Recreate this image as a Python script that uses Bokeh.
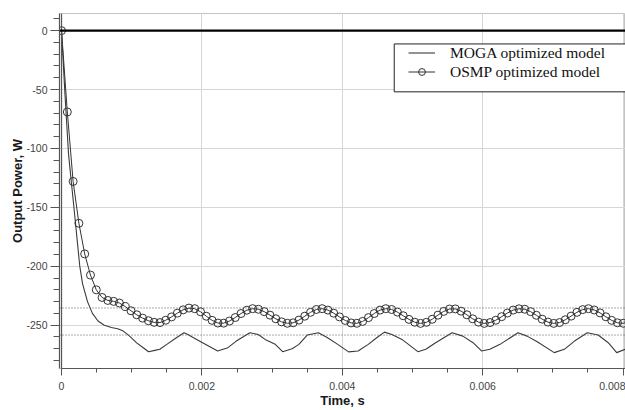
from bokeh.plotting import figure
from bokeh.models import (Range1d, FixedTicker, CustomJSTickFormatter, Span,
                          BoxAnnotation, Legend, LegendItem, ColumnDataSource)
from bokeh.embed import file_html
from bokeh.resources import INLINE

# ---------------- data ----------------
series_labels = ["MOGA optimized model", "OSMP optimized model"]

osmp_t_ms = [
    0, 0.0825, 0.165, 0.2475, 0.33, 0.4125, 0.495, 0.5775, 0.66, 0.7425,
    0.825, 0.9075, 0.99, 1.0725, 1.155, 1.2375, 1.32, 1.4025, 1.485, 1.5675,
    1.65, 1.7325, 1.815, 1.8975, 1.98, 2.0625, 2.145, 2.2275, 2.31, 2.3925,
    2.475, 2.5575, 2.64, 2.7225, 2.805, 2.8875, 2.97, 3.0525, 3.135, 3.2175,
    3.3, 3.3825, 3.465, 3.5475, 3.63, 3.7125, 3.795, 3.8775, 3.96, 4.0425,
    4.125, 4.2075, 4.29, 4.3725, 4.455, 4.5375, 4.62, 4.7025, 4.785, 4.8675,
    4.95, 5.0325, 5.115, 5.1975, 5.28, 5.3625, 5.445, 5.5275, 5.61, 5.6925,
    5.775, 5.8575, 5.94, 6.0225, 6.105, 6.1875, 6.27, 6.3525, 6.435, 6.5175,
    6.6, 6.6825, 6.765, 6.8475, 6.93, 7.0125, 7.095, 7.1775, 7.26, 7.3425,
    7.425, 7.5075, 7.59, 7.6725, 7.755, 7.8375, 7.92, 8.0025, 8.085, 8.1675,
]
osmp_power = [
    0, -69, -128, -163.5, -189.5, -207.5, -220, -226.5, -229, -229.8,
    -231.2, -234.2, -237.8, -241.2, -244, -246.2, -247.6, -247.8, -245.8, -243,
    -239.8, -237, -235.5, -236, -238.6, -242.4, -245.9, -248.2, -248.3, -246.5,
    -243.5, -240.1, -237.3, -236.0, -236.5, -238.5, -241.5, -244.6, -247.2, -248.4,
    -248.0, -245.7, -242.4, -239.1, -236.7, -236.0, -237.2, -239.8, -243.0, -246.0,
    -248.1, -248.4, -246.8, -243.6, -240.1, -237.2, -236.0, -236.7, -238.9, -242.0,
    -245.1, -247.5, -248.5, -247.6, -245.0, -241.5, -238.3, -236.3, -236.2, -238.1,
    -241.2, -244.6, -247.4, -248.5, -247.8, -245.8, -242.8, -239.7, -237.2, -236.1,
    -236.5, -238.5, -241.6, -244.9, -247.4, -248.5, -247.8, -245.4, -242.3, -239.1,
    -236.8, -236.0, -237.1, -239.6, -242.9, -245.9, -248.0, -248.4, -247.1, -244.2,
]

moga_t_ms = [
    0, 0.05, 0.10, 0.18, 0.26, 0.30, 0.37, 0.44, 0.52, 0.61,
    0.71, 0.80, 0.88, 0.97, 1.07, 1.16, 1.24, 1.33, 1.40, 1.50,
    1.62, 1.745, 1.80, 1.88, 2.009, 2.225, 2.37, 2.49, 2.683, 2.803,
    2.90, 3.045, 3.15, 3.285, 3.382, 3.50, 3.66, 3.79, 3.935, 4.09,
    4.225, 4.37, 4.49, 4.60, 4.707, 4.85, 5.077, 5.19, 5.33, 5.564,
    5.718, 5.863, 5.983, 6.103, 6.247, 6.503, 6.633, 6.777, 7.019, 7.163,
    7.308, 7.49, 7.645, 7.789, 7.909, 8.03, 8.15,
]
moga_power = [
    0, -55, -105, -152, -200, -215, -230, -240, -246.5, -250,
    -252, -253, -255, -259.3, -265, -269, -272.6, -271.4, -270.5, -266.3,
    -261.3, -256.5, -257.9, -260.7, -264.9, -271.9, -269.1, -263.5, -256.5, -257.9,
    -262.1, -266.3, -272.5, -270, -266.3, -258.4, -256.5, -260.7, -266.3, -272.7,
    -271.9, -266.3, -260.7, -255.9, -257.9, -262.1, -272.5, -270.5, -264.9, -256.5,
    -259.3, -264.9, -271.9, -270.5, -266.3, -256.5, -259.3, -264.1, -273.3, -270.5,
    -263.5, -256.5, -258.4, -264.9, -273.3, -270.5, -269.1,
]

zero_level = 0
ref_levels = [-235.4, -258.4]          # dotted reference lines
x_ticks = [0, 0.002, 0.004, 0.006, 0.008]
y_ticks = [0, -50, -100, -150, -200, -250]

# ---------------- layout geometry ----------------
W, H = 625, 410
BORDER_L, BORDER_T, BORDER_R, BORDER_B = 59, 13, 0, 39
VISIBLE_RIGHT = 617   # observed right end of the plotting frame
# reference pixel calibration
X0_PX, PX_PER_S = 61.0, 69200.0
Y0_PX, PX_PER_W = 30.3, 1.188


def x_at(px):
    return (px - X0_PX) / PX_PER_S


def y_at(py):
    return -(py - Y0_PX) / PX_PER_W


f_left = BORDER_L
f_top = BORDER_T
f_bottom = H - BORDER_B

p = figure(width=W, height=H, output_backend="svg", toolbar_location=None,
           x_range=Range1d(x_at(f_left), x_at(VISIBLE_RIGHT)),
           y_range=Range1d(y_at(f_bottom), y_at(f_top)),
           min_border_left=BORDER_L, min_border_right=BORDER_R,
           min_border_top=BORDER_T, min_border_bottom=BORDER_B)
p.background_fill_color = "white"
p.border_fill_color = "white"
p.outline_line_color = "#c4c4c4"
p.outline_line_width = 1

# grid
p.xgrid.grid_line_color = "#d6d6d6"
p.ygrid.grid_line_color = "#d6d6d6"
p.xgrid.grid_line_width = 1
p.ygrid.grid_line_width = 1

# axes
minor_x = [i * 0.0005 for i in range(0, 17)]
minor_y = [10 - 10 * i for i in range(0, 30)]
p.xaxis.ticker = FixedTicker(ticks=x_ticks, minor_ticks=minor_x)
p.yaxis.ticker = FixedTicker(ticks=y_ticks, minor_ticks=minor_y)
p.xaxis.formatter = CustomJSTickFormatter(code='return tick === 0 ? "0" : tick.toFixed(3);')
p.yaxis.formatter = CustomJSTickFormatter(code='return tick.toFixed(0);')
p.xaxis.bounds = (0, 0.0085)

for ax in (p.xaxis[0], p.yaxis[0]):
    ax.axis_line_color = "#555555"
    ax.axis_line_width = 1.2
    ax.major_tick_line_color = "#555555"
    ax.minor_tick_line_color = "#555555"
    ax.major_tick_in = 0
    ax.minor_tick_in = 0
    ax.major_label_text_font = "Liberation Sans"
    ax.major_label_text_font_size = "10.5px"
    ax.major_label_text_color = "#444444"
    ax.axis_label_text_font = "Liberation Sans"
    ax.axis_label_text_font_style = "bold"
    ax.axis_label_text_font_size = "13px"
    ax.axis_label_text_color = "#1a1a1a"

p.yaxis.major_tick_out = 9
p.yaxis.minor_tick_out = 6
p.yaxis.major_label_standoff = 3
p.yaxis.axis_label = "Output Power, W"
p.yaxis.axis_label_standoff = -2

p.xaxis.major_tick_out = 7
p.xaxis.minor_tick_out = 4
p.xaxis.major_label_standoff = 6
p.xaxis.axis_label = "Time, s"
p.xaxis.axis_label_standoff = 0

# reference lines
p.add_layout(Span(location=0, dimension="height", line_color="#555555", line_width=1.2))
p.add_layout(Span(location=zero_level, dimension="width", line_color="black", line_width=2.4))
for lv in ref_levels:
    p.add_layout(Span(location=lv, dimension="width", line_color="#555555",
                      line_width=1, line_dash="1 2"))

# series
moga_src = ColumnDataSource(dict(t=[v * 1e-3 for v in moga_t_ms], pw=moga_power))
osmp_src = ColumnDataSource(dict(t=[v * 1e-3 for v in osmp_t_ms], pw=osmp_power))

moga_line = p.line("t", "pw", source=moga_src, line_color="#3a3a3a", line_width=1.1)
osmp_line = p.line("t", "pw", source=osmp_src, line_color="#333333", line_width=1)
osmp_pts = p.scatter("t", "pw", source=osmp_src, marker="circle", size=8,
                     fill_alpha=0, line_color="#333333", line_width=1)

# legend box + legend
box = BoxAnnotation(left=x_at(389), right=x_at(624), top=y_at(43.7), bottom=y_at(92),
                    fill_color="white", fill_alpha=1, line_color="#222222",
                    line_alpha=1, line_width=1)
p.add_layout(box)

legend = Legend(items=[LegendItem(label=series_labels[0], renderers=[moga_line]),
                       LegendItem(label=series_labels[1], renderers=[osmp_line, osmp_pts])],
                location=(403 - f_left, f_bottom - 88.7),
                padding=5, spacing=1, margin=0,
                glyph_width=27, glyph_height=17, label_height=17, label_standoff=15,
                label_text_font="Liberation Serif", label_text_font_size="15.5px",
                label_text_color="#111111",
                background_fill_alpha=0, border_line_alpha=0)
p.add_layout(legend)

open("out.html", "w").write(file_html(p, INLINE))
